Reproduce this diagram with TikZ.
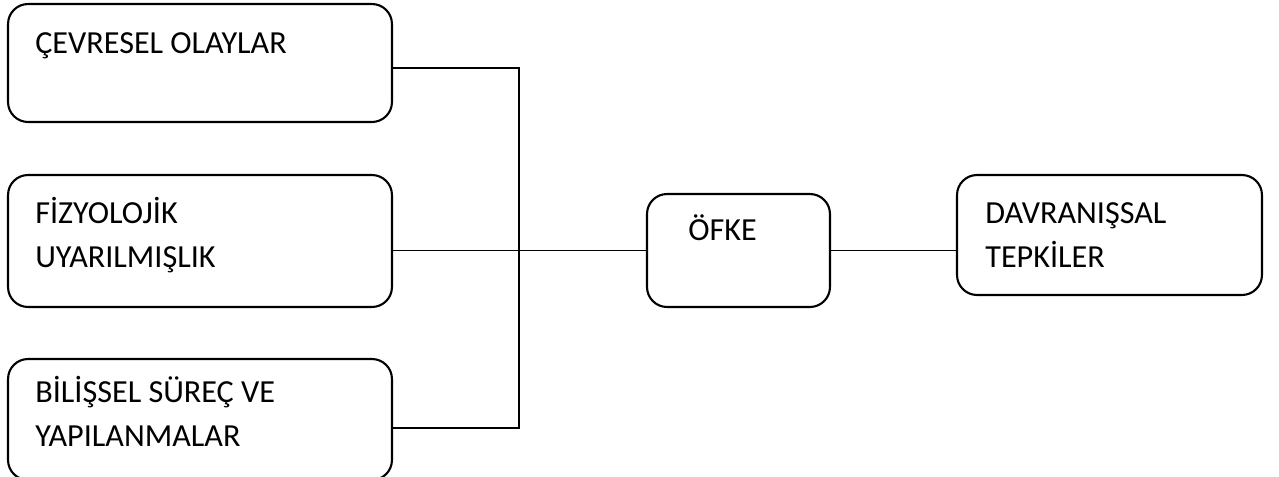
\documentclass[tikz,border=0pt]{standalone}
\usepackage{fontspec}
\setmainfont{Carlito}
\usetikzlibrary{positioning,calc}

\begin{document}
\begin{tikzpicture}[
  x=0.02cm, y=-0.02cm,
  box/.style={draw=black, line width=1.2pt, rounded corners=0.4cm, inner sep=0pt},
  lbl/.style={anchor=base west, inner sep=0pt, align=left,
    font=\fontsize{18.3}{25}\selectfont},
  link/.style={draw=black, line width=1.1pt},
]
  \useasboundingbox (0,0) rectangle (1279,477);

  % Left column: sources
  \node[box, minimum width=7.68cm, minimum height=2.36cm] (env) at (200,63) {};
  \node[box, minimum width=7.68cm, minimum height=2.64cm] (phys) at (200,241) {};
  \node[box, minimum width=7.68cm, minimum height=2.42cm] (cogn) at (200,419.5) {};

  % Middle and right
  \node[box, minimum width=3.66cm, minimum height=2.26cm] (anger) at (738.5,250.5) {};
  \node[box, minimum width=6.10cm, minimum height=2.40cm] (behav) at (1109.5,235) {};

  % Labels (base = last line)
  \node[lbl] (envtxt) at (35,53) {ÇEVRESEL OLAYLAR};
  \node[lbl] (phystxt) at (35,267) {FİZYOLOJİK\\UYARILMIŞLIK};
  \node[lbl] (cogntxt) at (35,446) {BİLİŞSEL SÜREÇ VE\\YAPILANMALAR};
  \node[lbl] (angertxt) at (688,240) {ÖFKE};
  \node[lbl] (behavtxt) at (985,267) {DAVRANIŞSAL\\TEPKİLER};

  % Connectors
  \coordinate (jtop) at (519,68);
  \coordinate (jbot) at (519,428);
  \draw[link] (jtop -| env.east) -- (jtop) -- (jbot) -- (jbot -| cogn.east);
  \draw[link] (anger.west -| phys.east) -- (anger.west);
  \draw[link] (anger.east) -- (anger.east -| behav.west);
\end{tikzpicture}
\end{document}
